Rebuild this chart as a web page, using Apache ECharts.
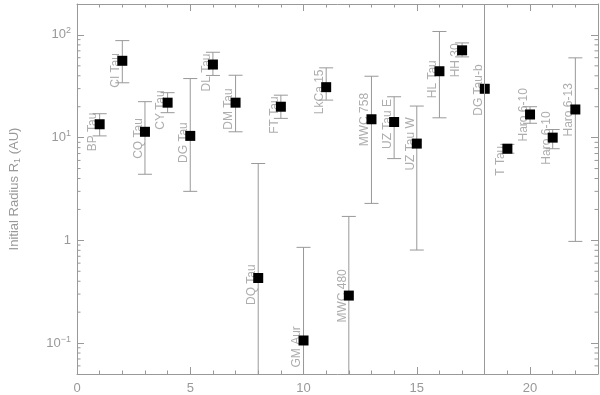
<!DOCTYPE html>
<html>
<head>
<meta charset="utf-8">
<script src="https://cdn.jsdelivr.net/npm/echarts@6/dist/echarts.min.js"></script>
<style>html,body{margin:0;padding:0;background:#fff;}#c{width:600px;height:395px;}</style>
</head>
<body>
<div id="c"></div>
<script>
// ---- data ----
const names = ['BP Tau','CI Tau','CQ Tau','CY Tau','DG Tau','DL Tau','DM Tau','DQ Tau','FT Tau','GM Aur','LkCa 15','MWC 480','MWC 758','UZ Tau E','UZ Tau W','HL Tau','HH 30','DG Tau-b','T Tau','Haro 6-10','Haro 6-10','Haro 6-13'];
const xs    = [1,2,3,4,5,6,7,8,9,10,11,12,13,14,15,16,17,18,19,20,21,22];
const radius= [13.5,56,11.4,21.9,10.4,51.5,21.9,0.43,20.0,0.106,31.0,0.29,15.1,14.2,8.75,44.3,70.8,29.9,7.8,16.8,10.0,18.8];
const errHi = [17.1,88,22.4,27.4,37.6,67.8,40.5,5.6,25.9,0.855,47.8,1.71,39.6,25.0,20.3,108,83.6,null,8.6,20.0,12.0,59.8];
const errLo = [10.4,34.2,4.4,17.5,3.0,40.3,11.4,0.001,15.4,0.001,23.2,0.001,2.29,6.25,0.805,15.6,61.1,null,7.05,13.8,7.8,0.977];
const separatorX = [18];
const xTickValues = [0,5,10,15,20];
const yMajorTicks = [0.1,1,10,100];
const yTickBase = ['10','1','10','10'];
const yTickExp  = ['\u22121','','1','2'];
const yMinorTicks = [0.06,0.07,0.08,0.09,0.2,0.3,0.4,0.5,0.6,0.7,0.8,0.9,2,3,4,5,6,7,8,9,20,30,40,50,60,70,80,90];
const xMin = 0, xMax = 23, yMin = 0.05, yMax = 200;

const GRAY = '#999999';
const FONT = 'Liberation Sans';

const pointData = xs.map((x,i)=>({name:names[i], value:[x, radius[i]]}));
const errData = [];
xs.forEach((x,i)=>{ if (errHi[i] != null) errData.push([x, errLo[i], errHi[i]]); });

function yLabel(v){
  for (let i=0;i<yMajorTicks.length;i++){
    if (Math.abs(v - yMajorTicks[i]) / yMajorTicks[i] < 1e-6){
      return yTickExp[i] ? yTickBase[i] + '{sup|' + yTickExp[i] + '}' : yTickBase[i];
    }
  }
  return '';
}
function xLabel(v){ return xTickValues.indexOf(v) >= 0 ? String(v) : ''; }

const chart = echarts.init(document.getElementById('c'), null, {renderer:'canvas'});
const axisCommon = {
  axisLine:{show:true, onZero:false, lineStyle:{color:GRAY, width:1}},
  splitLine:{show:false}
};
chart.setOption({
  animation:false,
  backgroundColor:'#fff',
  grid:{left:73, right:2, top:4, bottom:20, containLabel:false},
  xAxis:[
    Object.assign({}, axisCommon, {type:'value', min:xMin, max:xMax, interval:5, position:'bottom',
      axisTick:{show:true, inside:true, length:7, lineStyle:{color:GRAY, width:1}},
      minorTick:{show:true, splitNumber:5, length:3.5, lineStyle:{color:GRAY, width:1}},
      axisLabel:{show:true, formatter:xLabel, color:GRAY, fontFamily:FONT, fontSize:13, margin:8, showMaxLabel:false}}),
    Object.assign({}, axisCommon, {type:'value', min:xMin, max:xMax, interval:5, position:'top',
      axisTick:{show:true, inside:true, length:7, lineStyle:{color:GRAY, width:1}},
      minorTick:{show:true, splitNumber:5, length:3.5, lineStyle:{color:GRAY, width:1}},
      axisLabel:{show:false}})
  ],
  yAxis:[
    Object.assign({}, axisCommon, {type:'log', logBase:10, min:yMin, max:yMax, position:'left',
      axisTick:{show:true, inside:true, length:7, lineStyle:{color:GRAY, width:1}},
      axisLabel:{show:true, formatter:yLabel, color:GRAY, fontFamily:FONT, fontSize:13, margin:6,
        rich:{sup:{fontSize:9, verticalAlign:'top', color:GRAY, fontFamily:FONT, padding:[0,0,8,0]}}},
      name:'Initial Radius R{sub|1} (AU)', nameLocation:'middle', nameGap:55, nameRotate:90,
      nameTextStyle:{color:GRAY, fontFamily:FONT, fontSize:13,
        rich:{sub:{fontSize:9, color:GRAY, fontFamily:FONT, padding:[6,0,0,0]}}}}),
    Object.assign({}, axisCommon, {type:'log', logBase:10, min:yMin, max:yMax, position:'right',
      axisTick:{show:true, inside:true, length:7, lineStyle:{color:GRAY, width:1}},
      axisLabel:{show:false}})
  ],
  series:[
    {
      type:'custom', name:'minorY', silent:true, z:1,
      data: yMinorTicks.map(v=>[xMin, v]),
      encode:{x:0, y:1},
      renderItem:function(params, api){
        const v = api.value(1);
        const pl = api.coord([xMin, v]);
        const pr = api.coord([xMax, v]);
        return {type:'group', children:[
          {type:'line', shape:{x1:pl[0], y1:pl[1], x2:pl[0]+3.5, y2:pl[1]}, style:{stroke:GRAY, lineWidth:1}},
          {type:'line', shape:{x1:pr[0], y1:pr[1], x2:pr[0]-3.5, y2:pr[1]}, style:{stroke:GRAY, lineWidth:1}}
        ]};
      }
    },
    {
      type:'custom', name:'errors', silent:true, z:2, clip:true,
      data: errData,
      encode:{x:0, y:[1,2]},
      renderItem:function(params, api){
        const x = api.value(0), lo = api.value(1), hi = api.value(2);
        const a = api.coord([x, hi]);
        const b = api.coord([x, lo]);
        const w = 7;
        return {type:'group', children:[
          {type:'line', shape:{x1:a[0], y1:a[1], x2:b[0], y2:b[1]}, style:{stroke:GRAY, lineWidth:1}},
          {type:'line', shape:{x1:a[0]-w, y1:a[1], x2:a[0]+w, y2:a[1]}, style:{stroke:GRAY, lineWidth:1}},
          {type:'line', shape:{x1:b[0]-w, y1:b[1], x2:b[0]+w, y2:b[1]}, style:{stroke:GRAY, lineWidth:1}}
        ]};
      },
      markLine:{symbol:'none', silent:true, label:{show:false},
        lineStyle:{color:GRAY, type:'solid', width:1},
        data: separatorX.map(v=>({xAxis:v}))}
    },
    {
      type:'scatter', name:'labels', silent:true, z:3,
      symbol:'rect', symbolSize:10, itemStyle:{color:'rgba(0,0,0,0)'},
      data: pointData,
      label:{show:true, formatter:'{b}', rotate:90, position:[-1.5, 32], align:'left', verticalAlign:'middle',
        color:GRAY, fontFamily:FONT, fontSize:12}
    },
    {
      type:'scatter', name:'points', z:4,
      symbol:'rect', symbolSize:10, itemStyle:{color:'#000', opacity:1},
      data: pointData
    }
  ]
});
</script>
</body>
</html>
